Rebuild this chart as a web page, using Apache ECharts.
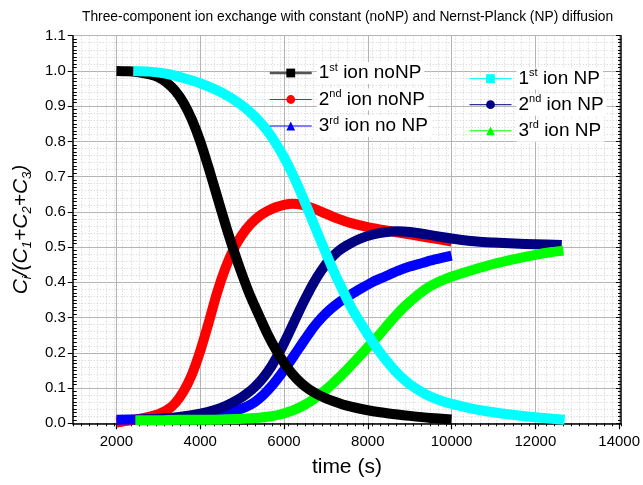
<!DOCTYPE html>
<html><head><meta charset="utf-8">
<script src="https://cdn.jsdelivr.net/npm/echarts@6/dist/echarts.min.js"></script>
<style>html,body{margin:0;padding:0;background:#fff}#c{width:643px;height:485px}</style>
</head><body><div id="c"></div>
<script>
// ---- data (time in s, normalized concentration) ----
const ion1NoNP_t = [2000,2300,2600,2800,3000,3200,3400,3600,3800,4000,4200,4400,4600,4800,5000,5200,5415,5600,5800,6000,6200,6400,6600,6800,7013,7500,8000,8500,9000,9500,10000];
const ion1NoNP_v = [1.0,0.999,0.995,0.990,0.982,0.967,0.944,0.910,0.862,0.800,0.725,0.645,0.565,0.490,0.422,0.360,0.303,0.255,0.210,0.172,0.140,0.115,0.096,0.082,0.070,0.050,0.037,0.028,0.021,0.015,0.011];

const ion2NoNP_t = [2000,2200,2400,2600,2800,3000,3200,3400,3600,3800,4000,4200,4400,4600,4800,5000,5200,5400,5600,5800,6000,6200,6400,6600,6800,7000,7300,7600,8000,8400,8800,9200,9600,10000];
const ion2NoNP_v = [0.002,0.006,0.010,0.014,0.019,0.026,0.037,0.057,0.090,0.138,0.205,0.285,0.370,0.440,0.495,0.535,0.565,0.587,0.602,0.613,0.620,0.623,0.621,0.614,0.605,0.595,0.580,0.568,0.557,0.548,0.540,0.532,0.524,0.516];

const ion3NoNP_t = [2000,2500,3000,3500,4000,4300,4600,4900,5100,5300,5500,5700,5900,6100,6300,6500,6700,6900,7100,7300,7500,7800,8100,8400,8700,9000,9300,9600,10000];
const ion3NoNP_v = [0.010,0.011,0.012,0.014,0.018,0.022,0.028,0.038,0.047,0.060,0.080,0.105,0.135,0.168,0.203,0.238,0.272,0.300,0.323,0.342,0.358,0.380,0.400,0.416,0.432,0.445,0.455,0.465,0.476];

const ion1NP_t = [2400,2800,3200,3600,4000,4400,4700,5000,5200,5400,5600,5800,6000,6200,6400,6600,6800,7000,7200,7400,7600,7800,8000,8200,8400,8600,8800,9000,9200,9400,9700,10000,10400,10800,11200,11600,12000,12400,12700];
const ion1NP_v = [1.0,0.998,0.992,0.980,0.965,0.945,0.926,0.902,0.882,0.858,0.830,0.795,0.755,0.708,0.655,0.598,0.540,0.483,0.428,0.378,0.330,0.290,0.252,0.216,0.184,0.156,0.131,0.111,0.095,0.081,0.066,0.055,0.044,0.035,0.028,0.022,0.017,0.013,0.010];

const ion2NP_t = [2450,3000,3500,4000,4300,4600,4900,5100,5300,5500,5700,5900,6100,6300,6500,6700,6900,7100,7300,7500,7800,8100,8400,8700,9000,9400,9800,10200,10600,11000,11500,12000,12630];
const ion2NP_v = [0.010,0.013,0.018,0.027,0.036,0.049,0.067,0.083,0.103,0.129,0.162,0.204,0.252,0.303,0.352,0.397,0.435,0.466,0.489,0.505,0.523,0.535,0.542,0.545,0.543,0.536,0.528,0.521,0.516,0.513,0.510,0.508,0.506];

const ion3NP_t = [2450,3000,3500,4000,4500,5000,5400,5700,5900,6100,6300,6500,6700,6900,7100,7300,7500,7700,7900,8100,8300,8500,8700,8900,9100,9300,9500,9800,10100,10500,11000,11500,12000,12400,12670];
const ion3NP_v = [0.009,0.009,0.010,0.010,0.011,0.013,0.016,0.020,0.025,0.032,0.041,0.053,0.068,0.086,0.106,0.128,0.152,0.177,0.203,0.229,0.255,0.283,0.310,0.334,0.355,0.374,0.390,0.407,0.420,0.435,0.452,0.466,0.478,0.486,0.490];

const xMajorTicks = [2000,4000,6000,8000,10000,12000,14000];
const titleText = 'Three-component ion exchange with constant (noNP) and Nernst-Planck (NP) diffusion';
const xName = 'time (s)';
const yName = 'C{sub|i}/(C{sub|1}+C{sub|2}+C{sub|3})';

const seriesDefs = [
  {name:'ion2noNP', label:['2','nd',' ion noNP'], t:ion2NoNP_t, v:ion2NoNP_v, color:'#ff0000', symbol:'circle'},
  {name:'ion3noNP', label:['3','rd',' ion no NP'], t:ion3NoNP_t, v:ion3NoNP_v, color:'#0000ff', symbol:'triangle'},
  {name:'ion2NP', label:['2','nd',' ion NP'], t:ion2NP_t, v:ion2NP_v, color:'#000080', symbol:'circle'},
  {name:'ion3NP', label:['3','rd',' ion NP'], t:ion3NP_t, v:ion3NP_v, color:'#00ff00', symbol:'triangle'},
  {name:'ion1noNP', label:['1','st',' ion noNP'], t:ion1NoNP_t, v:ion1NoNP_v, color:'#000000', symbol:'rect'},
  {name:'ion1NP', label:['1','st',' ion NP'], t:ion1NP_t, v:ion1NP_v, color:'#00ffff', symbol:'rect'}
];
const labelMap = {};
seriesDefs.forEach(d => labelMap[d.name] = d.label);

// ---- layout ----
const W = 643, H = 485;
const PL = 66, PR = 621, PT = 35.7, PB = 423.3;
const XMIN = 800, XMAX = 14000;
const leftB = PL + (PR - PL) * (xMajorTicks[0] - XMIN) / (XMAX - XMIN);
const FF = '"Liberation Sans", Arial, sans-serif';

const chart = echarts.init(document.getElementById('c'));
const legendText = {
  fontSize: 19, color: '#000', fontFamily: FF, backgroundColor: '#fff', padding: [0, 3, 0, 2],
  rich: {
    a: {fontSize: 19, lineHeight: 22, fontFamily: FF, color: '#000'},
    s: {fontSize: 11, lineHeight: 11, verticalAlign: 'top', fontFamily: FF, color: '#000'}
  }
};
function legendFormatter(name) {
  const l = labelMap[name];
  return '{a|' + l[0] + '}{s|' + l[1] + '}{a|' + l[2] + '}';
}

chart.setOption({
  animation: false,
  backgroundColor: '#fff',
  textStyle: {fontFamily: FF},
  title: {text: titleText, left: 77, top: 5, textStyle: {fontSize: 13.8, fontWeight: 'normal', color: '#000', fontFamily: FF}},
  grid: [
    {left: PL, right: W - PR, top: PT, bottom: H - PB},
    {left: leftB, right: W - PR, top: PT, bottom: H - PB}
  ],
  legend: [
    {left: 268.5, top: 62, orient: 'vertical', itemWidth: 42, itemHeight: 11, itemGap: 4.5, padding: 0,
     lineStyle: {width: 1}, textStyle: legendText, formatter: legendFormatter, selectedMode: false,
     data: [{name: 'ion1noNP', lineStyle: {width: 2.5, color: '#555'}}, {name: 'ion2noNP'}, {name: 'ion3noNP'}]},
    {left: 469, top: 67.6, orient: 'vertical', itemWidth: 42, itemHeight: 11, itemGap: 4.1, padding: 0,
     lineStyle: {width: 1}, textStyle: legendText, formatter: legendFormatter, selectedMode: false,
     data: [{name: 'ion1NP'}, {name: 'ion2NP'}, {name: 'ion3NP'}]}
  ],
  xAxis: [
    {gridIndex: 0, type: 'value', min: XMIN, max: XMAX, interval: 200,
     axisLine: {show: true, onZero: false, lineStyle: {color: '#000', width: 1.5}},
     axisTick: {show: true, length: 3, lineStyle: {color: '#000', width: 1}},
     axisLabel: {show: false},
     splitLine: {show: true, lineStyle: {color: '#d0d0d0', width: 1, type: [1, 2]}},
     name: xName, nameLocation: 'middle', nameGap: 33,
     nameTextStyle: {fontSize: 21, color: '#000', fontFamily: FF}},
    {gridIndex: 1, type: 'value', min: xMajorTicks[0], max: xMajorTicks[xMajorTicks.length - 1], interval: 2000,
     axisLine: {show: false, onZero: false},
     axisTick: {show: true, length: 6, lineStyle: {color: '#000', width: 1.2}},
     axisLabel: {show: true, fontSize: 15, color: '#000', margin: 11, fontFamily: FF, formatter: v => String(v)},
     splitLine: {show: true, lineStyle: {color: '#b4b4b4', width: 1}}}
  ],
  yAxis: [
    {gridIndex: 0, type: 'value', position: 'left', min: 0, max: 1.1, interval: 0.1,
     axisLine: {show: true, onZero: false, lineStyle: {color: '#000', width: 1.5}},
     axisTick: {show: true, length: 5, lineStyle: {color: '#000', width: 1}},
     axisLabel: {fontSize: 15, color: '#000', margin: 7, fontFamily: FF, formatter: v => v.toFixed(1)},
     splitLine: {show: true, lineStyle: {color: '#b4b4b4', width: 1}},
     minorTick: {show: false, splitNumber: 5},
     minorSplitLine: {show: true, lineStyle: {color: '#d0d0d0', width: 1, type: [1, 2]}},
     name: yName, nameLocation: 'middle', nameRotate: 90, nameGap: 31,
     nameTextStyle: {fontSize: 21, fontStyle: 'italic', color: '#000', fontFamily: FF, lineHeight: 26,
       rich: {sub: {fontSize: 13, fontStyle: 'italic', verticalAlign: 'bottom', lineHeight: 13, fontFamily: FF, color: '#000'}}}},
    {gridIndex: 0, type: 'value', position: 'left', min: 0, max: 1.1, interval: 0.1,
     axisLine: {show: false, onZero: false}, axisTick: {show: false, inside: true}, axisLabel: {show: false},
     splitLine: {show: false},
     minorTick: {show: true, splitNumber: 10, length: 4, lineStyle: {color: '#000', width: 1}}},
    {gridIndex: 0, type: 'value', position: 'right', min: 0, max: 1.1, interval: 0.1,
     axisLine: {show: true, onZero: false, lineStyle: {color: '#000', width: 1.5}},
     axisTick: {show: true, inside: true, length: 5, lineStyle: {color: '#000', width: 1}},
     axisLabel: {show: false}, splitLine: {show: false},
     minorTick: {show: true, splitNumber: 10, length: 3, lineStyle: {color: '#000', width: 1}}},
    {gridIndex: 1, type: 'value', min: 0, max: 1.1, interval: 0.1, show: false, splitLine: {show: false}}
  ],
  series: seriesDefs.map(d => ({
    type: 'line', name: d.name, xAxisIndex: 1, yAxisIndex: 3,
    data: d.t.map((t, i) => [t, d.v[i]]),
    showSymbol: false, symbol: d.symbol, smooth: 0.3, clip: false,
    lineStyle: {width: 10, color: d.color, cap: 'butt', join: 'round'},
    itemStyle: {color: d.color},
    emphasis: {disabled: true}
  }))
});
</script></body></html>
